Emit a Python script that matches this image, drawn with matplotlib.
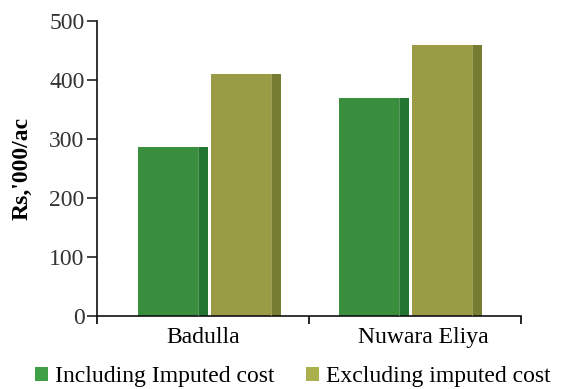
import numpy as np
import matplotlib.pyplot as plt
from matplotlib.patches import Patch

plt.rcParams['font.family'] = ['Liberation Serif', 'DejaVu Serif']

districts = ['Badulla', 'Nuwara Eliya']
including_imputed = [286, 369]
excluding_imputed = [409, 458]
series_names = ['Including Imputed cost', 'Excluding imputed cost']

face_colors = ['#3a8f3e', '#999c45']
side_colors = ['#237532', '#767c31']
edge_colors = ['#7fb07f', '#b8ba7a']
legend_colors = ['#40a045', '#aab04c']

fig = plt.figure(figsize=(5.61, 3.89), dpi=100)
ax = fig.add_axes([0.1729, 0.1877, 0.7558, 0.7591])

# group centres and label centres along the category axis
x_bars = np.array([0.0, 0.95])
x_labels = np.array([0.0, 1.04])
face_w = 0.283
side_w = 0.047
starts = [-0.307, 0.038]

# each bar = flat front face plus a darker strip on the right for a 3D look
for vals, s, fc, sc, ec in zip([including_imputed, excluding_imputed], starts, face_colors, side_colors, edge_colors):
    ax.bar(x_bars + s, vals, width=face_w, align='edge', color=fc, edgecolor='none', zorder=2)
    ax.bar(x_bars + s + face_w, vals, width=side_w, align='edge', color=sc, edgecolor='none', zorder=2)
    ax.bar(x_bars + s + face_w, vals, width=0.004, align='edge', color=ec,
           edgecolor='none', zorder=3, alpha=0.6)

ax.set_xlim(-0.5, 1.5)
ax.set_ylim(0, 500)
ax.set_yticks(range(0, 501, 100))
ax.set_xticks([-0.5, 0.5, 1.5])
ax.set_xticklabels([])
ax.set_xticks(x_labels, minor=True)
ax.set_xticklabels(districts, minor=True)
ax.tick_params(axis='x', which='minor', length=0, pad=8, labelsize=17)
ax.tick_params(axis='x', which='major', length=6, width=1.2, direction='out')
ax.tick_params(axis='y', length=7, width=1.2, direction='out', pad=2, labelsize=17,
               colors='#222222', labelcolor='#333333')

for side in ['top', 'right']:
    ax.spines[side].set_visible(False)
for side in ['left', 'bottom']:
    ax.spines[side].set_linewidth(1.2)
    ax.spines[side].set_color('#111111')

ax.set_ylabel("Rs,'000/ac", fontsize=17, fontweight='bold')
ax.yaxis.set_label_coords(-0.152, 0.5)

handles = [Patch(facecolor=c, edgecolor='none') for c in legend_colors]
fig.legend(handles, series_names, loc='center', bbox_to_anchor=(0.522, 0.031), ncol=2,
           frameon=False, fontsize=17, handlelength=0.55, handleheight=0.55,
           handletextpad=0.3, columnspacing=1.35, borderpad=0)

fig.savefig('out.png', dpi=100)
